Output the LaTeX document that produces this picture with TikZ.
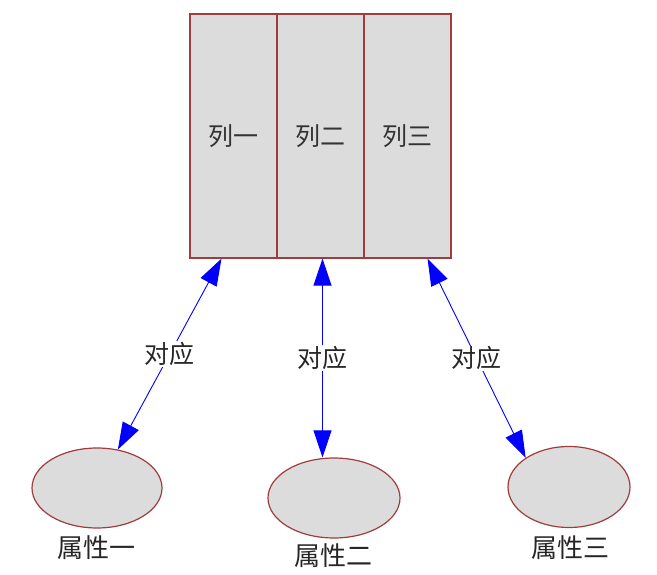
\documentclass[tikz,border=0pt]{standalone}
\usepackage{fontspec}
\newfontfamily\cjk{Noto Sans CJK SC}
\usetikzlibrary{arrows.meta,shapes.geometric,calc}
\definecolor{boxfill}{HTML}{DCDCDC}
\definecolor{boxline}{HTML}{A03C3C}
\definecolor{arrowblue}{HTML}{0000FF}
\begin{document}
\begin{tikzpicture}[x=1pt,y=-1pt,
  col/.style={draw=boxline,fill=boxfill,line width=1.2pt,minimum width=87pt,minimum height=244pt,inner sep=0pt,font=\cjk\fontsize{25}{25}\selectfont,text=black!80},
  attr/.style={ellipse,draw=boxline,fill=boxfill,line width=1.2pt,inner sep=0pt},
  lab/.style={font=\cjk\fontsize{26}{26}\selectfont,text=black!85},
  link/.style={arrowblue,line width=0.9pt,{Triangle[length=27pt,width=18pt]}-{Triangle[length=27pt,width=18pt]}},
  rel/.style={fill=white,font=\cjk\fontsize{25}{25}\selectfont,text=black!85,inner sep=1pt}]
\useasboundingbox (0,0) rectangle (657,575);
\node[col] (c1) at (233.5,136) {列一};
\node[col] (c2) at (320.5,136) {列二};
\node[col] (c3) at (407.5,136) {列三};
\node[attr,minimum width=130pt,minimum height=80pt] (e1) at (97,488) {};
\node[attr,minimum width=132pt,minimum height=80pt] (e2) at (334,498) {};
\node[attr,minimum width=122pt,minimum height=81pt] (e3) at (569,487) {};
\node[lab] (l1) at (96,548) {属性一};
\node[lab] (l2) at (333,556) {属性二};
\node[lab] (l3) at (570,548) {属性三};
\coordinate (a1) at ($(c1.south)+(-12,0)$);
\coordinate (a2) at ($(c2.south)+(2,0)$);
\coordinate (a3) at ($(c3.south)+(20,0)$);
\draw[link] (a1) -- node[rel] {对应} (e1);
\draw[link] (a2) -- node[rel] {对应} (a2 |- e2.north);
\draw[link] (a3) -- node[rel] {对应} (e3.146);
\end{tikzpicture}
\end{document}
